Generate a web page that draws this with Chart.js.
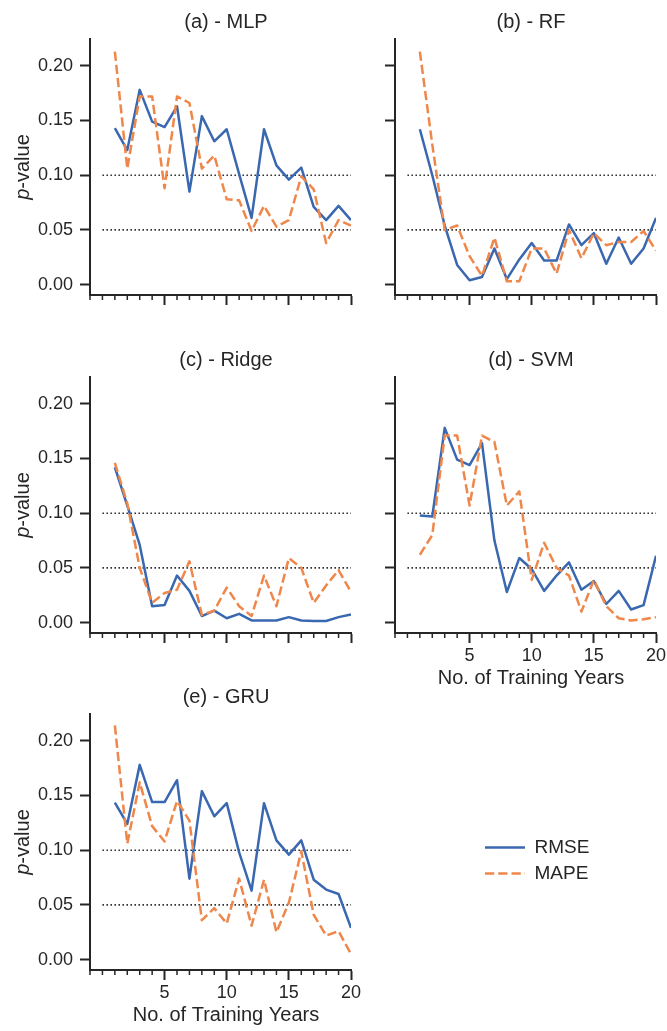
<!DOCTYPE html>
<html>
<head>
<meta charset="utf-8">
<script src="https://cdn.jsdelivr.net/npm/chart.js@4.4.1/dist/chart.umd.min.js"></script>
<style>
  html, body { margin: 0; padding: 0; background: #fff; overflow: hidden; }
  #wrap { position: relative; width: 667px; height: 1031px; }
  canvas { position: absolute; }
</style>
</head>
<body>
<div id="wrap">
  <canvas id="mlp" width="362" height="356" style="left:0px;top:0px"></canvas>
  <canvas id="rf" width="362" height="356" style="left:305px;top:0px"></canvas>
  <canvas id="ridge" width="362" height="356" style="left:0px;top:338px"></canvas>
  <canvas id="svm" width="362" height="356" style="left:305px;top:338px"></canvas>
  <canvas id="gru" width="362" height="356" style="left:0px;top:675px"></canvas>
  <canvas id="legend" width="160" height="120" style="left:478px;top:831px"></canvas>
</div>
<script>
const years = [1, 2, 3, 4, 5, 6, 7, 8, 9, 10, 11, 12, 13, 14, 15, 16, 17, 18, 19, 20];
const xMajorTicks = [5, 10, 15, 20];
const xMinorTicks = [-1, 0, 1, 2, 3, 4, 6, 7, 8, 9, 11, 12, 13, 14, 16, 17, 18, 19];
const yTicks = [0, 0.05, 0.10, 0.15, 0.20];
const thresholds = [0.05, 0.10];
const seriesNames = ["RMSE", "MAPE"];

const mlpRmse = [0.143, 0.123, 0.178, 0.149, 0.144, 0.163, 0.085, 0.154, 0.131, 0.142, 0.101, 0.061, 0.142, 0.109, 0.096, 0.107, 0.071, 0.059, 0.072, 0.059];
const mlpMape = [0.213, 0.106, 0.172, 0.172, 0.088, 0.172, 0.166, 0.106, 0.118, 0.078, 0.077, 0.049, 0.072, 0.053, 0.059, 0.099, 0.087, 0.038, 0.059, 0.054];

const rfRmse = [0.142, 0.100, 0.054, 0.018, 0.004, 0.007, 0.033, 0.005, 0.023, 0.038, 0.022, 0.022, 0.055, 0.036, 0.047, 0.019, 0.043, 0.019, 0.033, 0.061];
const rfMape = [0.213, 0.128, 0.050, 0.054, 0.026, 0.008, 0.043, 0.003, 0.003, 0.033, 0.033, 0.010, 0.050, 0.024, 0.047, 0.036, 0.039, 0.039, 0.049, 0.031];

const ridgeRmse = [0.142, 0.107, 0.071, 0.015, 0.016, 0.043, 0.029, 0.006, 0.011, 0.004, 0.008, 0.002, 0.002, 0.002, 0.005, 0.002, 0.0015, 0.0015, 0.005, 0.0075];
const ridgeMape = [0.146, 0.109, 0.050, 0.018, 0.027, 0.030, 0.056, 0.007, 0.011, 0.032, 0.015, 0.006, 0.043, 0.015, 0.059, 0.050, 0.018, 0.034, 0.048, 0.028];

const svmRmse = [0.098, 0.097, 0.178, 0.149, 0.144, 0.164, 0.075, 0.028, 0.059, 0.049, 0.029, 0.043, 0.055, 0.030, 0.038, 0.017, 0.029, 0.012, 0.016, 0.061];
const svmMape = [0.062, 0.080, 0.171, 0.171, 0.107, 0.171, 0.165, 0.107, 0.120, 0.039, 0.073, 0.050, 0.043, 0.010, 0.039, 0.015, 0.004, 0.002, 0.003, 0.005];

const gruRmse = [0.1435, 0.124, 0.178, 0.144, 0.144, 0.164, 0.074, 0.154, 0.131, 0.143, 0.098, 0.063, 0.143, 0.109, 0.096, 0.109, 0.073, 0.064, 0.060, 0.029];
const gruMape = [0.214, 0.106, 0.162, 0.122, 0.108, 0.145, 0.127, 0.036, 0.047, 0.033, 0.074, 0.031, 0.073, 0.025, 0.052, 0.099, 0.041, 0.022, 0.026, 0.005];

const blue = "#3a68b0";
const orange = "#ef874b";
const ink = "#262626";
const family = "'Liberation Sans', Arial, sans-serif";

Chart.defaults.font.family = family;
Chart.defaults.color = ink;

const toPoints = arr => years.map((x, i) => ({ x: x, y: arr[i] }));

// titles and axis labels, placed from the chart area
const panelText = {
  id: "panelText",
  afterDraw(chart, args, opts) {
    const { ctx, chartArea: a } = chart;
    const cx = (a.left + a.right) / 2 + 5.5;
    ctx.save();
    ctx.fillStyle = ink;
    ctx.textAlign = "center";
    ctx.textBaseline = "middle";
    ctx.font = "20px " + family;
    ctx.fillText(opts.title, cx, a.top - 17);
    if (opts.xTitle) ctx.fillText(opts.xTitle, cx, a.bottom + 45);
    if (opts.yTitle) {
      const italic = "italic 20px " + family;
      const normal = "20px " + family;
      ctx.translate(a.left - 67, (a.top + a.bottom) / 2);
      ctx.rotate(-Math.PI / 2);
      ctx.font = italic;
      const w1 = ctx.measureText(opts.yTitle[0]).width;
      ctx.font = normal;
      const w2 = ctx.measureText(opts.yTitle[1]).width;
      ctx.textAlign = "left";
      ctx.font = italic;
      ctx.fillText(opts.yTitle[0], -(w1 + w2) / 2, 0);
      ctx.font = normal;
      ctx.fillText(opts.yTitle[1], -(w1 + w2) / 2 + w1, 0);
    }
    ctx.restore();
  }
};

// short ticks for every year
const minorTicks = {
  id: "minorTicks",
  afterDraw(chart) {
    const { ctx, chartArea: a } = chart;
    const xs = chart.scales.x;
    ctx.save();
    ctx.strokeStyle = ink;
    ctx.lineWidth = 1.5;
    xMinorTicks.forEach(v => {
      const px = xs.getPixelForValue(v);
      ctx.beginPath();
      ctx.moveTo(px, a.bottom);
      ctx.lineTo(px, a.bottom + 5);
      ctx.stroke();
    });
    ctx.restore();
  }
};

function makePanel(id, title, rmse, mape, showY, showX) {
  const refLines = thresholds.map(t => ({
    label: "p = " + t,
    data: [{ x: 0, y: t }, { x: 20, y: t }],
    borderColor: "#333",
    borderWidth: 1.6,
    borderDash: [1.6, 2.4],
    pointRadius: 0,
    order: 2
  }));

  return new Chart(document.getElementById(id), {
    type: "line",
    data: {
      datasets: [
        { label: seriesNames[0], data: toPoints(rmse), borderColor: blue, borderWidth: 2.5,
          borderJoinStyle: "round", pointRadius: 0, tension: 0, order: 1 },
        { label: seriesNames[1], data: toPoints(mape), borderColor: orange, borderWidth: 2.5,
          borderDash: [9.25, 4], borderJoinStyle: "round", pointRadius: 0, tension: 0, order: 0 },
        ...refLines
      ]
    },
    options: {
      responsive: false,
      animation: false,
      events: [],
      layout: { padding: { top: 39, right: 11, left: 0, bottom: 0 } },
      plugins: {
        legend: { display: false },
        tooltip: { enabled: false },
        panelText: {
          title: title,
          xTitle: showX ? "No. of Training Years" : null,
          yTitle: showY ? ["p", "-value"] : null
        }
      },
      scales: {
        x: {
          type: "linear",
          min: -1,
          max: 20,
          bounds: "data",
          afterBuildTicks: s => { s.ticks = xMajorTicks.map(v => ({ value: v })); },
          afterFit: s => { s.height = 61; s.paddingLeft = 0; s.paddingRight = 0; },
          grid: { drawOnChartArea: false, drawTicks: true, tickLength: 10, tickWidth: 2, tickColor: ink },
          border: { display: true, color: ink, width: 2 },
          ticks: {
            padding: 2,
            maxRotation: 0,
            autoSkip: false,
            font: { size: 18 },
            color: ink,
            callback: v => (showX ? String(v) : "")
          }
        },
        y: {
          type: "linear",
          min: -0.0095,
          max: 0.2245,
          bounds: "data",
          afterBuildTicks: s => { s.ticks = yTicks.map(v => ({ value: v })); },
          afterFit: s => { s.width = 90; },
          grid: { drawOnChartArea: false, drawTicks: true, tickLength: 10, tickWidth: 2, tickColor: ink },
          border: { display: true, color: ink, width: 2 },
          ticks: {
            padding: 7,
            font: { size: 18 },
            color: ink,
            callback: v => (showY ? Number(v).toFixed(2) : "")
          }
        }
      }
    },
    plugins: [panelText, minorTicks]
  });
}

makePanel("mlp", "(a) - MLP", mlpRmse, mlpMape, true, false);
makePanel("rf", "(b) - RF", rfRmse, rfMape, false, false);
makePanel("ridge", "(c) - Ridge", ridgeRmse, ridgeMape, true, false);
makePanel("svm", "(d) - SVM", svmRmse, svmMape, false, true);
makePanel("gru", "(e) - GRU", gruRmse, gruMape, true, true);

// legend
const legendStyles = [
  { color: blue, dash: [] },
  { color: orange, dash: [9.25, 4] }
];
new Chart(document.getElementById("legend"), {
  type: "line",
  data: {
    datasets: seriesNames.map((name, i) => ({
      label: name, data: [], borderColor: legendStyles[i].color,
      borderWidth: 2.5, borderDash: legendStyles[i].dash
    }))
  },
  options: {
    responsive: false,
    animation: false,
    events: [],
    scales: { x: { display: false }, y: { display: false } },
    plugins: {
      tooltip: { enabled: false },
      legend: {
        position: "top",
        align: "start",
        maxHeight: 110,
        labels: {
          usePointStyle: true,
          pointStyleWidth: 40,
          padding: 7,
          font: { size: 19 },
          color: ink,
          generateLabels: chart => chart.data.datasets.map((ds, i) => ({
            text: ds.label,
            fillStyle: ds.borderColor,
            strokeStyle: ds.borderColor,
            lineWidth: ds.borderWidth,
            lineDash: ds.borderDash,
            lineCap: "butt",
            pointStyle: "line",
            fontColor: ink,
            hidden: false,
            datasetIndex: i
          }))
        }
      }
    }
  }
});
</script>
</body>
</html>
